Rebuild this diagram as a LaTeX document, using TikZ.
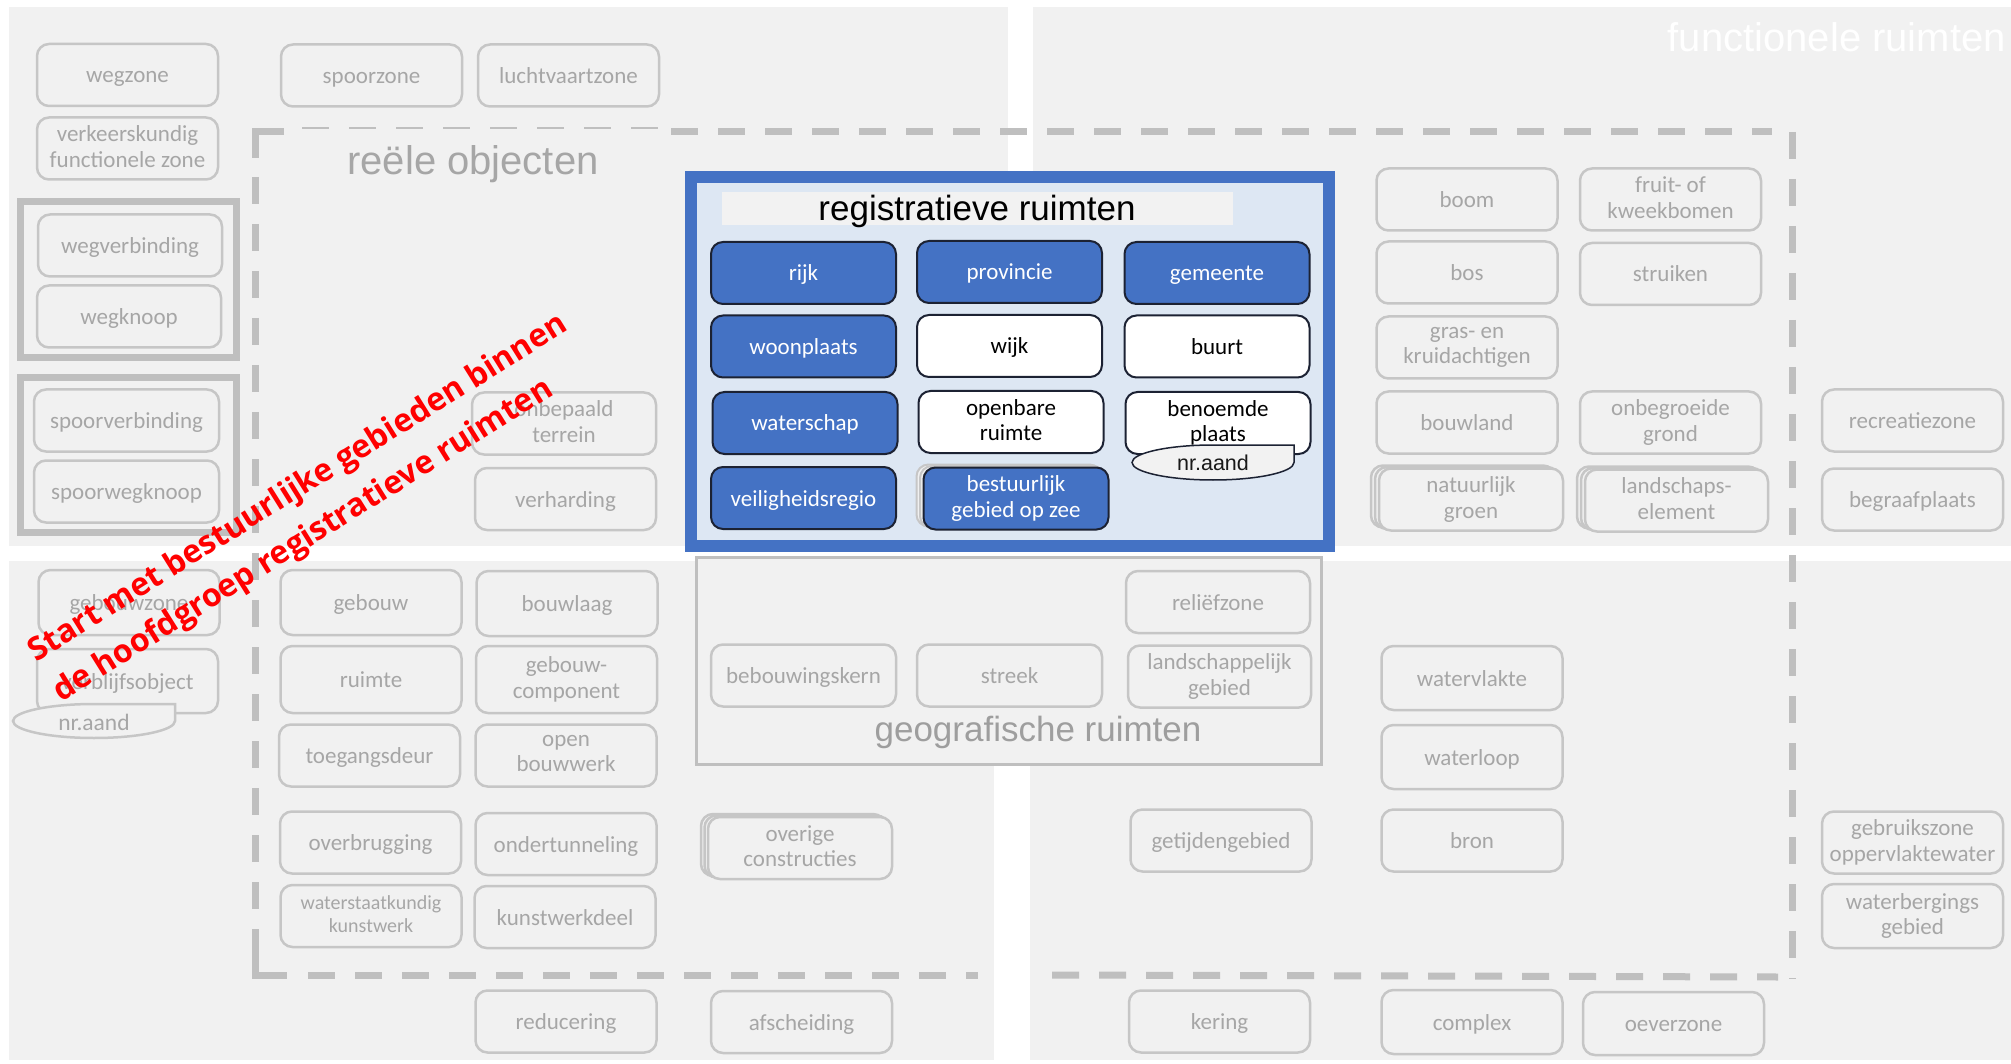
\documentclass[tikz,border=0pt]{standalone}
\usepackage{fontspec}
\setmainfont{Carlito}
\newfontfamily\arialfont{Liberation Sans}
\newfontfamily\redfont{Open Sans}
\definecolor{panel}{HTML}{F1F1F1}
\definecolor{boxgray}{HTML}{C6C6C6}
\definecolor{txtgray}{HTML}{A6A6A6}
\definecolor{dashgray}{HTML}{BFBFBF}
\definecolor{myblue}{HTML}{4472C4}
\definecolor{lightblue}{HTML}{DDE7F3}
\definecolor{titlegray}{HTML}{F2F2F2}
\definecolor{navyline}{HTML}{1C2233}
\definecolor{redtxt}{HTML}{FF0000}
\newcommand\mystrut{\rule[-4pt]{0pt}{24pt}}
\newcommand\mytopstrut{\rule[-4pt]{0pt}{30pt}}
\tikzset{
  gbox/.style={draw=boxgray, line width=2.5pt, rounded corners=12pt, fill=panel, text=txtgray,
    align=center, minimum width=181pt, minimum height=62pt, inner sep=2pt,
    font=\fontsize{23}{25.5}\selectfont,
    execute at begin node=\mystrut, execute at end node=\mystrut},
  twol/.style={execute at begin node=\mytopstrut},
  gback/.style={gbox},
  bbox/.style={draw=navyline, line width=2pt, rounded corners=12pt, fill=myblue, text=white,
    align=center, minimum width=185pt, minimum height=62pt, inner sep=2pt,
    font=\fontsize{23}{25.5}\selectfont,
    execute at begin node=\mystrut, execute at end node=\mystrut},
  wbox/.style={bbox, fill=white, text=black},
  bback/.style={bbox, draw=gray!45, fill=gray!12},
  bigframe/.style={draw=dashgray, line width=7pt},
  dline/.style={draw=dashgray, line width=7pt, dash pattern=on 27pt off 20pt},
  thinline/.style={draw=dashgray, line width=2pt, dash pattern=on 27pt off 20pt},
  biglabel/.style={font=\arialfont\fontsize{40}{46}\selectfont, inner sep=0pt, anchor=base},
}
\begin{document}
\begin{tikzpicture}[x=1pt,y=-1pt]
\useasboundingbox (0,0) rectangle (2011,1064);
\fill[white] (0,0) rectangle (2011,1064);
% panels
\fill[panel] (9,7) rectangle (1008,546);
\fill[panel] (1033,7) rectangle (2011,546);
\fill[panel] (9,561) rectangle (994,1060);
\fill[panel] (1030,561) rectangle (2011,1060);

% headings
\node[biglabel, anchor=base east, text=white] (tfun) at (2006,52) {functionele ruimten};
\node[biglabel, text=txtgray] (treel) at (473,175) {reële objecten};

% dashed frame reele objecten
\draw[bigframe] (284,131.5) -- (255,131.5) -- (255,158);
\draw[thinline] (302,128.5) -- (662,128.5);
\draw[dline] (671,132) -- (1772,132);
\draw[dline] (255,177) -- (255,950);
\draw[bigframe] (255,950) -- (255,975) -- (287,975);
\draw[dline] (308,975) -- (978,975);
\draw[dline] (1052,975) -- (1778,977);
\draw[dline] (1792,132) -- (1792,979);

% thick frames
\draw[bigframe] (20.5,201.5) rectangle (236.5,357.5);
\draw[bigframe] (20.5,377.5) rectangle (236.5,532.5);

% top-left boxes
\node[gbox] (wegzone) at (127.5,75) {wegzone};
\node[gbox, twol] (verk) at (127.5,148.5) {verkeerskundig\\functionele zone};
\node[gbox, minimum width=184pt] (wegverb) at (130,245.5) {wegverbinding};
\node[gbox, minimum width=184pt] (wegkn) at (129,316.5) {wegknoop};
\node[gbox, minimum width=185pt] (spoorverb) at (126.5,420.5) {spoorverbinding};
\node[gbox, minimum width=185pt] (spoorkn) at (126.5,491.5) {spoorwegknoop};
\node[gbox] (spoorzone) at (371.5,75.5) {spoorzone};
\node[gbox] (lucht) at (568.5,75.5) {luchtvaartzone};
\node[gbox, twol, minimum width=184pt] (onbep) at (564,423.5) {onbepaald\\terrein};
\node[gbox] (verh) at (565.5,499) {verharding};

% top-right boxes
\node[gbox] (boom) at (1467,199.5) {boom};
\node[gbox, twol] (fruit) at (1670.5,199.5) {fruit- of\\kweekbomen};
\node[gbox] (bos) at (1467,272.5) {bos};
\node[gbox] (struiken) at (1670.5,274) {struiken};
\node[gbox, twol] (gras) at (1467,347.5) {gras- en\\kruidachtigen};
\node[gbox] (bouwland) at (1467,422.5) {bouwland};
\node[gbox, twol] (onbegr) at (1670.5,422.5) {onbegroeide\\grond};
\node[gback, minimum width=184pt] (natb2) at (1463,496.5) {};
\node[gback, minimum width=184pt] (natb1) at (1467,498) {};
\node[gbox, twol, minimum width=184pt] (natuur) at (1471,499.5) {natuurlijk\\groen};
\node[gback, minimum width=183pt] (lanb2) at (1668.5,497.5) {};
\node[gback, minimum width=183pt] (lanb1) at (1672.5,499) {};
\node[gbox, twol, minimum width=183pt] (landel) at (1676.5,500.5) {landschaps-\\element};
\node[gbox] (recreatie) at (1912.5,420.5) {recreatiezone};
\node[gbox] (begraaf) at (1912.5,499.5) {begraafplaats};

% bottom-left boxes
\node[gbox, minimum height=65pt] (gebzone) at (129,602.5) {gebouwzone};
\node[gbox, minimum height=64pt] (verblijf) at (127.5,681) {verblijfsobject};
\draw[draw=boxgray, line width=2.5pt, fill=panel] (175,704) -- (175,721)
  .. controls (175,730.35) and (138.5,738) .. (94,738)
  .. controls (49.5,738) and (13,730.35) .. (13,721)
  .. controls (13,711.65) and (49.5,704) .. (94,704) -- cycle;
\node[text=txtgray, font=\fontsize{23.5}{27}\selectfont, inner sep=0pt] (nrgray) at (94,722) {nr.aand};
\node[gbox, minimum height=65pt] (gebouw) at (371,602.5) {gebouw};
\node[gbox, minimum height=65pt] (bouwlaag) at (567,603.5) {bouwlaag};
\node[gbox, minimum height=67pt] (ruimte) at (371,679.5) {ruimte};
\node[gbox, twol, minimum height=67pt] (gebcomp) at (566.5,679.5) {gebouw-\\component};
\node[gbox] (toegang) at (369.5,755.5) {toegangsdeur};
\node[gbox, twol] (openbw) at (566,755.5) {open\\bouwwerk};
\node[gbox] (overbr) at (370.5,842.5) {overbrugging};
\node[gbox] (ondert) at (566,844) {ondertunneling};
\node[gbox, twol, font=\fontsize{20}{23}\selectfont] (wsk) at (371,916) {waterstaatkundig\\kunstwerk};
\node[gbox] (kwdeel) at (565,917) {kunstwerkdeel};
\node[gbox] (reduc) at (566,1021.5) {reducering};
\node[gback, minimum width=184pt] (ovb2) at (793,845) {};
\node[gback, minimum width=184pt] (ovb1) at (796.5,846.5) {};
\node[gbox, twol, minimum width=184pt] (overige) at (800,848) {overige\\constructies};
\node[gbox] (afsch) at (801.5,1022) {afscheiding};

% geografische ruimten
\draw[draw=dashgray, line width=3pt, fill=panel] (696,557) rectangle (1321,764);
\node[biglabel, font=\arialfont\fontsize{35}{40}\selectfont, text=txtgray!95!black] (tgeo) at (1038,741) {geografische ruimten};
\node[gbox, minimum width=184pt] (relief) at (1218,602) {reliëfzone};
\node[gbox, minimum width=185pt] (bebouw) at (803.5,675.5) {bebouwingskern};
\node[gbox, minimum width=185pt] (streek) at (1009.5,675.5) {streek};
\node[gbox, twol, minimum width=183pt] (landsch) at (1219.5,676.5) {landschappelijk\\gebied};

% bottom-right boxes
\node[gbox] (getij) at (1221,840.5) {getijdengebied};
\node[gbox] (kering) at (1219.5,1021.5) {kering};
\node[gbox, minimum height=64pt] (watervl) at (1472,678) {watervlakte};
\node[gbox, minimum height=64pt] (waterl) at (1472,757) {waterloop};
\node[gbox] (bron) at (1472,840.5) {bron};
\node[gbox, twol] (gebrz) at (1912.5,842.5) {gebruikszone\\oppervlaktewater};
\node[gbox, twol, minimum height=64pt] (waterb) at (1912.5,916) {waterbergings\\gebied};
\node[gbox, minimum height=64pt] (complex) at (1472,1022) {complex};
\node[gbox, minimum height=63pt] (oever) at (1673.5,1023.5) {oeverzone};

% registratieve ruimten
\draw[draw=myblue, line width=12pt, fill=lightblue] (691,177) rectangle (1329,546);
\fill[titlegray] (722,192) rectangle (1233,225);
\node[biglabel, font=\arialfont\fontsize{35}{40}\selectfont, text=black] (treg) at (977,221) {registratieve ruimten};
\node[bbox] (rijk) at (803.5,273) {rijk};
\node[bbox] (prov) at (1009.5,272) {provincie};
\node[bbox] (gem) at (1217,273) {gemeente};
\node[bbox] (woonpl) at (803.5,346.5) {woonplaats};
\node[wbox] (wijk) at (1009.5,346) {wijk};
\node[wbox] (buurt) at (1217,346.5) {buurt};
\node[bbox] (watersch) at (805,423) {waterschap};
\node[wbox, twol] (openr) at (1011,422) {openbare\\ruimte};
\node[wbox, twol] (benpl) at (1218,423) {benoemde\\plaats};
\draw[draw=navyline, line width=1.5pt, fill=titlegray] (1294,445) -- (1294,462.5)
  .. controls (1294,472.1) and (1257.5,480) .. (1213,480)
  .. controls (1168.5,480) and (1132,472.1) .. (1132,462.5)
  .. controls (1132,452.9) and (1168.5,445) .. (1213,445) -- cycle;
\node[font=\arialfont\fontsize{21.5}{25}\selectfont, text=black!90, inner sep=0pt] (nrblue) at (1213,463) {nr.aand};
\node[bbox] (veilig) at (803.5,498) {veiligheidsregio};
\node[bback] (bzb2) at (1009,495.5) {};
\node[bback] (bzb1) at (1012.5,497) {};
\node[bbox, twol] (bzee) at (1016,498.5) {bestuurlijk\\gebied op zee};

% red annotation
\node[rotate=32, align=left, text=redtxt, inner sep=0pt,
  font=\redfont\bfseries\fontsize{32}{47}\selectfont] (redtext) at (311,509)
  {Start met bestuurlijke gebieden binnen\\de hoofdgroep registratieve ruimten};
\end{tikzpicture}
\end{document}
